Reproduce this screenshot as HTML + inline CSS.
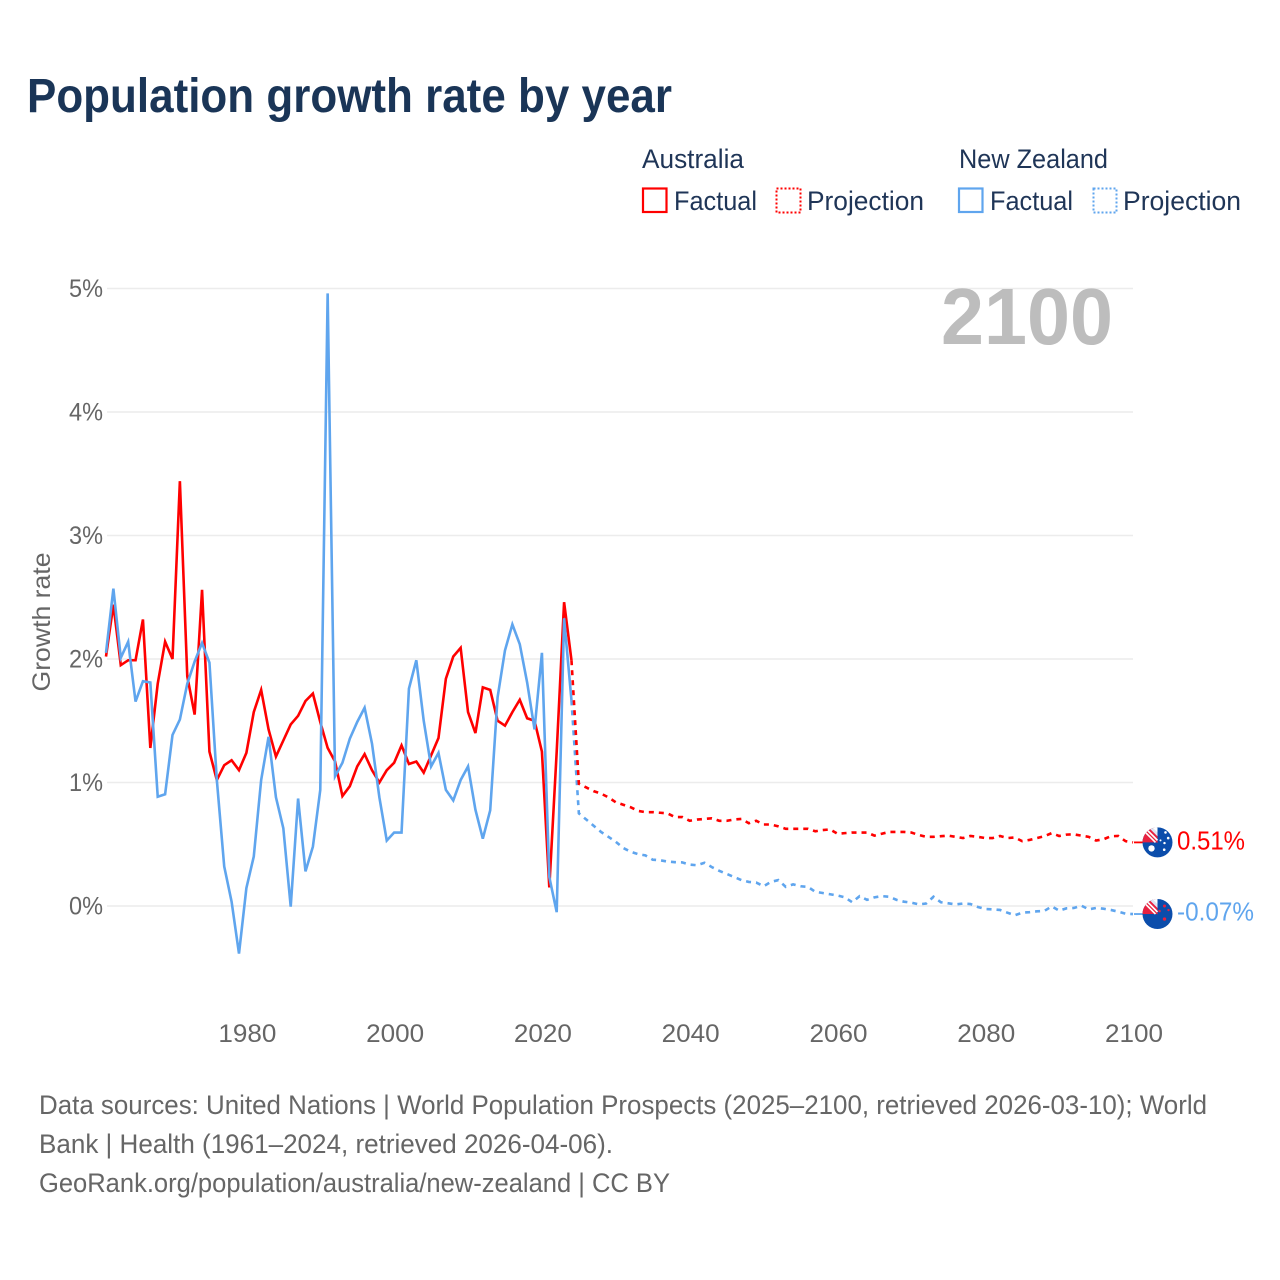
<!DOCTYPE html>
<html lang="en">
<head>
<meta charset="utf-8">
<title>Population growth rate by year</title>
<style>
html,body{margin:0;padding:0;background:#fff;width:1280px;height:1280px;overflow:hidden}
svg{display:block;font-family:"Liberation Sans",sans-serif}
</style>
</head>
<body>
<svg id="chart" xmlns="http://www.w3.org/2000/svg" width="1280" height="1280" viewBox="0 0 1280 1280">
  <defs>
    <clipPath id="flag-clip"><circle cx="0" cy="0" r="15"/></clipPath>
  </defs>
  <rect x="0" y="0" width="1280" height="1280" fill="#fff"/>
  <text x="27" y="112" font-size="48" font-weight="700" fill="#1a3557" textLength="645" lengthAdjust="spacingAndGlyphs">Population growth rate by year</text>

  <g font-size="26.5" fill="#1f3557">
    <text x="642" y="168" textLength="102" lengthAdjust="spacingAndGlyphs">Australia</text>
    <rect x="643" y="188.5" width="23.5" height="23.5" fill="none" stroke="#ff0000" stroke-width="2.2"/>
    <text x="674" y="210" textLength="83" lengthAdjust="spacingAndGlyphs">Factual</text>
    <rect x="776.5" y="188.5" width="24" height="24" fill="none" stroke="#ff0000" stroke-width="2" stroke-dasharray="2 2"/>
    <text x="807" y="210" textLength="117" lengthAdjust="spacingAndGlyphs">Projection</text>
    <text x="959" y="168" textLength="149" lengthAdjust="spacingAndGlyphs">New Zealand</text>
    <rect x="959" y="188.5" width="23.5" height="23.5" fill="none" stroke="#5fa5ee" stroke-width="2.2"/>
    <text x="990" y="210" textLength="83" lengthAdjust="spacingAndGlyphs">Factual</text>
    <rect x="1093.5" y="188.5" width="23" height="24" fill="none" stroke="#5fa5ee" stroke-width="2" stroke-dasharray="2 2"/>
    <text x="1123" y="210" textLength="118" lengthAdjust="spacingAndGlyphs">Projection</text>
  </g>

  <g id="grid"></g>
  <g id="y-ticks"></g>
  <g id="x-ticks"></g>
  <text transform="translate(50,622) rotate(-90)" text-anchor="middle" font-size="25" fill="#666" textLength="139" lengthAdjust="spacingAndGlyphs">Growth rate</text>
  <text x="941" y="344" font-size="80" font-weight="700" fill="#bdbdbd" textLength="172" lengthAdjust="spacingAndGlyphs">2100</text>

  <g id="series"></g>

  <g id="flag-au">
    <g clip-path="url(#flag-clip)">
      <rect x="-16" y="-16" width="32" height="32" fill="#0b4dab"/>
      <rect x="-15" y="-15" width="15" height="15" fill="#e8213f"/>
      <path d="M-13 -13 L-1 -1" stroke="#fff" stroke-width="4.5"/>
      <path d="M-12 -12 L0 0" stroke="#e8213f" stroke-width="1.2"/>
      <polygon points="-9,-15 0,-15 0,-6" fill="#dfe6f3"/>
      <polygon points="-5,-15 0,-15 0,-10" fill="#fff"/>
      <circle cx="-6" cy="6" r="3.2" fill="#fff"/>
      <circle cx="8" cy="-10" r="1.3" fill="#fff"/>
      <circle cx="10.7" cy="-4.3" r="1.3" fill="#fff"/>
      <circle cx="7" cy="0.7" r="1.2" fill="#fff"/>
      <circle cx="3" cy="-2" r="1" fill="#fff"/>
      <circle cx="6.7" cy="7.3" r="1.3" fill="#fff"/>
    </g>
  </g>
  <g id="flag-nz">
    <g clip-path="url(#flag-clip)">
      <rect x="-16" y="-16" width="32" height="32" fill="#0b4dab"/>
      <rect x="-15" y="-15" width="15" height="15" fill="#e8213f"/>
      <path d="M-13 -13 L-1 -1" stroke="#fff" stroke-width="4.5"/>
      <path d="M-12 -12 L0 0" stroke="#e8213f" stroke-width="1.2"/>
      <polygon points="-9,-15 0,-15 0,-6" fill="#dfe6f3"/>
      <polygon points="-5,-15 0,-15 0,-10" fill="#fff"/>
      <circle cx="7" cy="-8" r="1.5" fill="#e8213f"/>
      <circle cx="11" cy="-4" r="1.2" fill="#e8213f"/>
      <circle cx="2" cy="-3" r="1.3" fill="#e8213f"/>
      <circle cx="7" cy="5" r="1.7" fill="#e8213f"/>
    </g>
  </g>
  <text id="label-au" x="1177" font-size="26" fill="#ff0000" textLength="68" lengthAdjust="spacingAndGlyphs"></text>
  <text id="label-nz" x="1177" font-size="26" fill="#5fa5ee" textLength="77" lengthAdjust="spacingAndGlyphs"></text>

  <g font-size="26.5" fill="#666">
    <text x="39" y="1114" textLength="1168" lengthAdjust="spacingAndGlyphs">Data sources: United Nations | World Population Prospects (2025–2100, retrieved 2026-03-10); World</text>
    <text x="39" y="1153" textLength="574" lengthAdjust="spacingAndGlyphs">Bank | Health (1961–2024, retrieved 2026-04-06).</text>
    <text x="39" y="1192" textLength="631" lengthAdjust="spacingAndGlyphs">GeoRank.org/population/australia/new-zealand | CC BY</text>
  </g>
</svg>
<script>
var factualYears = [1961,1962,1963,1964,1965,1966,1967,1968,1969,1970,1971,1972,1973,1974,1975,1976,1977,1978,1979,1980,1981,1982,1983,1984,1985,1986,1987,1988,1989,1990,1991,1992,1993,1994,1995,1996,1997,1998,1999,2000,2001,2002,2003,2004,2005,2006,2007,2008,2009,2010,2011,2012,2013,2014,2015,2016,2017,2018,2019,2020,2021,2022,2023,2024];
var projectionYears = [2024,2025,2026,2027,2028,2029,2030,2031,2032,2033,2034,2035,2036,2037,2038,2039,2040,2041,2042,2043,2044,2045,2046,2047,2048,2049,2050,2051,2052,2053,2054,2055,2056,2057,2058,2059,2060,2061,2062,2063,2064,2065,2066,2067,2068,2069,2070,2071,2072,2073,2074,2075,2076,2077,2078,2079,2080,2081,2082,2083,2084,2085,2086,2087,2088,2089,2090,2091,2092,2093,2094,2095,2096,2097,2098,2099,2100];
var australiaFactual = [2.02,2.44,1.95,1.99,1.99,2.32,1.28,1.80,2.14,2.00,3.44,1.86,1.55,2.56,1.25,1.02,1.14,1.18,1.10,1.24,1.57,1.75,1.43,1.21,1.34,1.47,1.54,1.66,1.72,1.49,1.28,1.17,0.89,0.97,1.13,1.23,1.10,1.00,1.10,1.16,1.30,1.15,1.17,1.08,1.22,1.36,1.84,2.02,2.09,1.57,1.40,1.77,1.75,1.50,1.46,1.57,1.67,1.52,1.50,1.25,0.15,1.25,2.46,1.99];
var newZealandFactual = [2.05,2.57,2.01,2.14,1.655,1.82,1.81,0.885,0.905,1.385,1.51,1.80,1.98,2.13,1.97,1.02,0.32,0.035,-0.385,0.145,0.40,1.02,1.37,0.88,0.63,-0.005,0.87,0.28,0.48,0.94,4.96,1.05,1.16,1.355,1.49,1.605,1.315,0.88,0.53,0.595,0.595,1.76,1.99,1.50,1.13,1.24,0.94,0.855,1.02,1.13,0.78,0.545,0.775,1.69,2.07,2.28,2.12,1.81,1.43,2.05,0.235,-0.05,2.33,1.665];
var australiaProjection = [1.99,0.99,0.96,0.93,0.91,0.88,0.84,0.82,0.80,0.77,0.76,0.76,0.755,0.75,0.72,0.72,0.69,0.70,0.705,0.71,0.69,0.69,0.70,0.705,0.67,0.69,0.66,0.66,0.645,0.625,0.625,0.625,0.625,0.605,0.615,0.62,0.585,0.59,0.595,0.595,0.595,0.57,0.585,0.60,0.60,0.60,0.595,0.575,0.56,0.56,0.565,0.57,0.56,0.55,0.567,0.56,0.55,0.55,0.567,0.55,0.555,0.525,0.535,0.55,0.565,0.59,0.567,0.578,0.58,0.57,0.56,0.53,0.54,0.565,0.567,0.525,0.515];
var newZealandProjection = [1.665,0.75,0.70,0.65,0.60,0.56,0.52,0.47,0.44,0.42,0.41,0.375,0.37,0.36,0.355,0.353,0.335,0.33,0.35,0.315,0.285,0.26,0.235,0.21,0.195,0.19,0.16,0.195,0.21,0.155,0.175,0.16,0.155,0.115,0.105,0.095,0.085,0.07,0.03,0.08,0.05,0.07,0.08,0.075,0.05,0.035,0.027,0.013,0.02,0.075,0.03,0.022,0.013,0.02,0.016,-0.008,-0.024,-0.027,-0.032,-0.054,-0.075,-0.054,-0.05,-0.043,-0.04,-0.003,-0.038,-0.019,-0.016,0.003,-0.027,-0.016,-0.022,-0.032,-0.046,-0.062,-0.065];
var yTickValues = [0,1,2,3,4,5];
var yTickLabels = ['0%','1%','2%','3%','4%','5%'];
var xTickValues = [1980,2000,2020,2040,2060,2080,2100];
var xTickLabels = ['1980','2000','2020','2040','2060','2080','2100'];
var endLabels = ['0.51%','-0.07%'];

var NS = 'http://www.w3.org/2000/svg';
function xScale(year) { return 106 + (year - 1961) * (1133 - 106) / (2100 - 1961); }
function yScale(value) { return 906 - value * 123.5; }
function linePath(years, values) {
  return years.map(function (yr, i) {
    return (i ? 'L' : 'M') + xScale(yr).toFixed(2) + ' ' + yScale(values[i]).toFixed(2);
  }).join(' ');
}

var grid = document.getElementById('grid');
var yTicks = document.getElementById('y-ticks');
yTickValues.forEach(function (v, i) {
  var ln = document.createElementNS(NS, 'line');
  
  
  ln.setAttribute('x1', 107);
  ln.setAttribute('x2', 1133);
  ln.setAttribute('y1', yScale(v));
  ln.setAttribute('y2', yScale(v));
  ln.setAttribute('stroke', '#ececec');
  ln.setAttribute('stroke-width', '1.5');
  grid.appendChild(ln);
  var t = document.createElementNS(NS, 'text');
  
  
  t.setAttribute('x', 103);
  t.setAttribute('y', yScale(v) + 8.5);
  t.setAttribute('text-anchor', 'end');
  t.setAttribute('font-size', '25');
  t.setAttribute('fill', '#666');
  t.setAttribute('textLength', '34');
  t.setAttribute('lengthAdjust', 'spacingAndGlyphs');
  t.textContent = yTickLabels[i];
  yTicks.appendChild(t);
});

var xTicks = document.getElementById('x-ticks');
xTickValues.forEach(function (v, i) {
  var t = document.createElementNS(NS, 'text');
  
  
  t.setAttribute('x', xScale(v) + 1);
  t.setAttribute('y', 1042);
  t.setAttribute('text-anchor', 'middle');
  t.setAttribute('font-size', '25');
  t.setAttribute('fill', '#666');
  t.setAttribute('textLength', '58');
  t.setAttribute('lengthAdjust', 'spacingAndGlyphs');
  t.textContent = xTickLabels[i];
  xTicks.appendChild(t);
});

var seriesGroup = document.getElementById('series');
function addLine(name, years, values, color, dashed) {
  var p = document.createElementNS(NS, 'path');
  
  
  p.setAttribute('d', linePath(years, values));
  p.setAttribute('fill', 'none');
  p.setAttribute('stroke', color);
  p.setAttribute('stroke-width', '2.6');
  p.setAttribute('stroke-linejoin', 'miter');
  if (dashed) p.setAttribute('stroke-dasharray', '5 5');
  seriesGroup.appendChild(p);
}
function addConnector(name, value, color) {
  var c = document.createElementNS(NS, 'line');
  
  
  c.setAttribute('x1', xScale(2100) + 1);
  c.setAttribute('x2', xScale(2100) + 11);
  c.setAttribute('y1', yScale(value));
  c.setAttribute('y2', yScale(value));
  c.setAttribute('stroke', color);
  c.setAttribute('stroke-width', '1.8');
  seriesGroup.appendChild(c);
}
var RED = '#ff0000';
var BLUE = '#5fa5ee';
addLine('australia-factual-line', factualYears, australiaFactual, RED, false);
addLine('new-zealand-factual-line', factualYears, newZealandFactual, BLUE, false);
addLine('new-zealand-projection-line', projectionYears, newZealandProjection, BLUE, true);
addLine('australia-projection-line', projectionYears, australiaProjection, RED, true);
var auEnd = australiaProjection[australiaProjection.length - 1];
var nzEnd = newZealandProjection[newZealandProjection.length - 1];
addConnector('australia-end-connector', auEnd, RED);
addConnector('new-zealand-end-connector', nzEnd, BLUE);

var flagX = xScale(2100) + 24.5;
document.getElementById('flag-au').setAttribute('transform', 'translate(' + flagX + ',' + yScale(auEnd) + ')');
document.getElementById('flag-nz').setAttribute('transform', 'translate(' + flagX + ',' + yScale(nzEnd) + ')');
var labelAu = document.getElementById('label-au');
labelAu.setAttribute('y', yScale(auEnd) + 7);
labelAu.textContent = endLabels[0];
var labelNz = document.getElementById('label-nz');
labelNz.setAttribute('y', yScale(nzEnd) + 6.5);
labelNz.textContent = endLabels[1];
</script>
</body>
</html>
